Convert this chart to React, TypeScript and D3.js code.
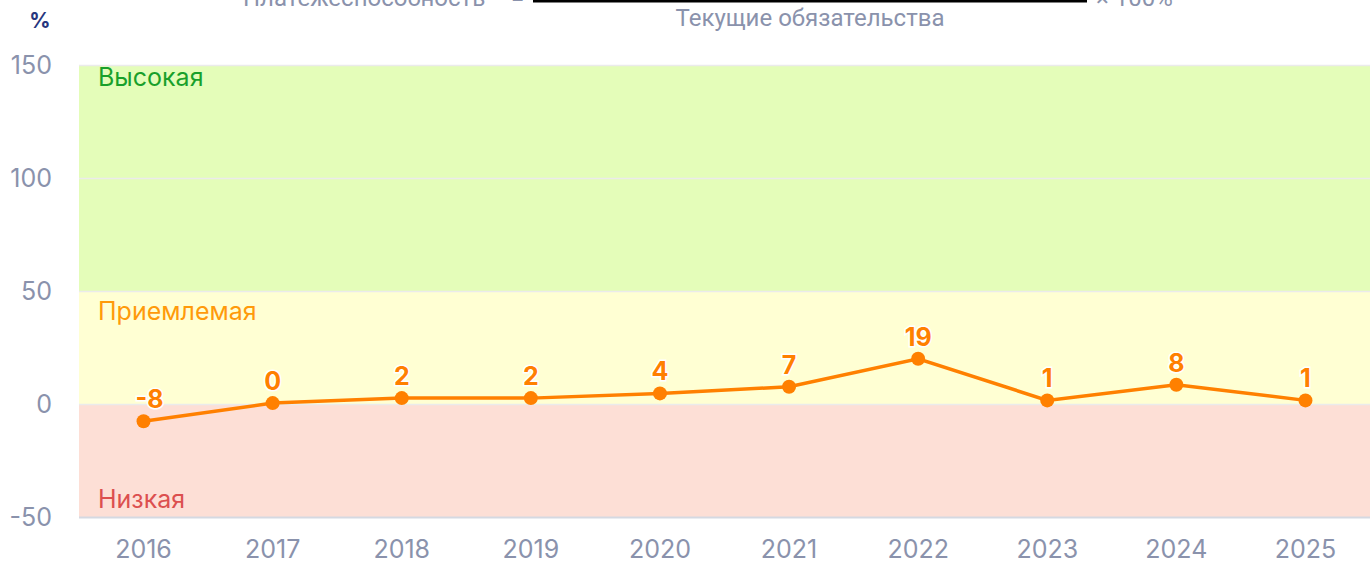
import React, { useEffect, useRef } from 'react';
import * as d3 from 'd3';

const years = ['2016', '2017', '2018', '2019', '2020', '2021', '2022', '2023', '2024', '2025'];
const solvency = [-7.6, 0.4, 2.6, 2.6, 4.7, 7.6, 20.0, 1.6, 8.5, 1.6];
const valueLabels = ['-8', '0', '2', '2', '4', '7', '19', '1', '8', '1'];
const yTicks = [-50, 0, 50, 100, 150];
const zones = [
  { name: 'Высокая', from: 50, to: 150, fill: '#e4fdb9', text: '#19a02b' },
  { name: 'Приемлемая', from: 0, to: 50, fill: '#ffffd3', text: '#ff9a0a' },
  { name: 'Низкая', from: -50, to: 0, fill: '#fddfd6', text: '#dc4f4f' },
];

const App = () => {
  const ref = useRef<SVGSVGElement>(null);

  useEffect(() => {
    const width = 1370;
    const marginLeft = 79;
    const marginRight = 0;
    const top = 65;
    const bottom = 517;
    const tickColor = '#8a92ac';
    const orange = '#ff8000';

    const svg = d3.select(ref.current);
    svg.selectAll('*').remove();

    const x = d3.scaleBand()
      .domain(years)
      .range([marginLeft, width - marginRight])
      .padding(0);

    const y = d3.scaleLinear()
      .domain([-50, 150])
      .range([bottom, top]);

    // background zones
    svg.append('g')
      .selectAll('rect')
      .data(zones)
      .join('rect')
      .attr('x', marginLeft)
      .attr('width', width - marginRight - marginLeft)
      .attr('y', d => y(d.to))
      .attr('height', d => y(d.from) - y(d.to))
      .attr('fill', d => d.fill);

    // gridlines
    svg.append('g')
      .selectAll('line')
      .data(yTicks)
      .join('line')
      .attr('x1', marginLeft)
      .attr('x2', width - marginRight)
      .attr('y1', d => y(d) + 0.5)
      .attr('y2', d => y(d) + 0.5)
      .attr('stroke', d => (d === -50 ? '#d5d9e2' : '#ebebeb'))
      .attr('stroke-width', d => (d === -50 ? 2 : 1.5));

    // y tick labels
    svg.append('g')
      .selectAll('text')
      .data(yTicks)
      .join('text')
      .attr('x', 52)
      .attr('y', d => y(d) + 9)
      .attr('text-anchor', 'end')
      .attr('fill', tickColor)
      .style('font', '25px Inter, sans-serif')
      .text(d => d);

    // x tick labels
    svg.append('g')
      .selectAll('text')
      .data(years)
      .join('text')
      .attr('x', d => x(d)! + x.bandwidth() / 2)
      .attr('y', 558)
      .attr('text-anchor', 'middle')
      .attr('fill', tickColor)
      .style('font', '25px Inter, sans-serif')
      .text(d => d);

    // zone names
    svg.append('g')
      .selectAll('text')
      .data(zones)
      .join('text')
      .attr('x', 98)
      .attr('y', d => (d.name === 'Низкая' ? y(d.from) - 9 : y(d.to) + (d.name === 'Высокая' ? 21 : 29)))
      .attr('fill', d => d.text)
      .style('font', '25px Inter, sans-serif')
      .text(d => d.name);

    // line
    const points = years.map((yr, i) => ({ yr, v: solvency[i], label: valueLabels[i] }));
    svg.append('path')
      .datum(points)
      .attr('fill', 'none')
      .attr('stroke', orange)
      .attr('stroke-width', 3.5)
      .attr('d', d3.line<typeof points[0]>()
        .x(d => x(d.yr)! + x.bandwidth() / 2)
        .y(d => y(d.v)));

    svg.append('g')
      .selectAll('circle')
      .data(points)
      .join('circle')
      .attr('cx', d => x(d.yr)! + x.bandwidth() / 2)
      .attr('cy', d => y(d.v))
      .attr('r', 7)
      .attr('fill', orange);

    svg.append('g')
      .selectAll('text')
      .data(points)
      .join('text')
      .attr('x', d => x(d.yr)! + x.bandwidth() / 2 + (d.label === '-8' ? 6 : 0))
      .attr('y', d => y(d.v) - 13)
      .attr('text-anchor', 'middle')
      .attr('fill', orange)
      .attr('stroke', 'white')
      .attr('stroke-width', 3)
      .attr('paint-order', 'stroke')
      .style('font', 'bold 25px Inter, sans-serif')
      .text(d => d.label);

    // unit
    svg.append('text')
      .attr('x', 40)
      .attr('y', 28)
      .attr('text-anchor', 'middle')
      .attr('fill', '#27367e')
      .style('font', 'bold 21px Inter, sans-serif')
      .text('%');

    // formula (partially cut off at the top, as in the original)
    const formulaFont = '24px "Liberation Sans Narrow", "Roboto", sans-serif';
    svg.append('text')
      .attr('x', 243)
      .attr('y', 6)
      .attr('fill', tickColor)
      .style('font', formulaFont)
      .text('Платежеспособность');
    svg.append('text')
      .attr('x', 511)
      .attr('y', 6)
      .attr('fill', tickColor)
      .style('font', formulaFont)
      .text('=');
    svg.append('line')
      .attr('x1', 533)
      .attr('x2', 1087)
      .attr('y1', 1)
      .attr('y2', 1)
      .attr('stroke', 'black')
      .attr('stroke-width', 3);
    svg.append('text')
      .attr('x', 810)
      .attr('y', 26)
      .attr('text-anchor', 'middle')
      .attr('fill', tickColor)
      .style('font', formulaFont)
      .text('Текущие обязательства');
    svg.append('text')
      .attr('x', 1096)
      .attr('y', 6)
      .attr('fill', tickColor)
      .style('font', formulaFont)
      .text('× 100%');
  }, []);

  return (
    <div style={{ position: 'absolute', left: 0, top: 0 }}>
      <svg ref={ref} width={1370} height={565} style={{ display: 'block' }} />
    </div>
  );
};

export default App;
